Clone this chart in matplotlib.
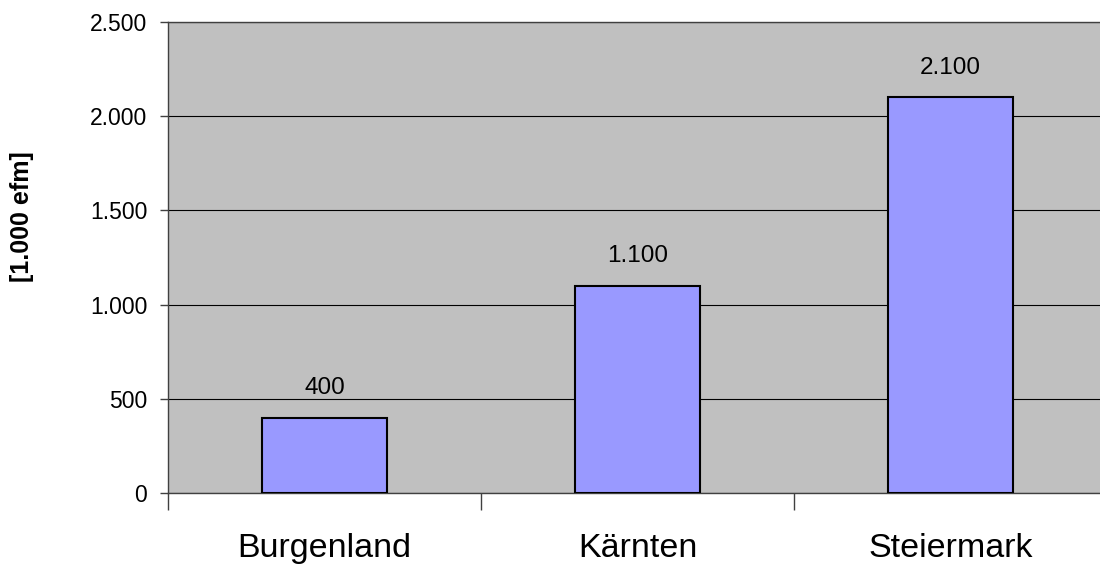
import matplotlib
matplotlib.use("Agg")
import matplotlib.pyplot as plt
from matplotlib.ticker import FuncFormatter, FixedLocator

categories = ["Burgenland", "Kärnten", "Steiermark"]
values = [400, 1100, 2100]
y_ticks = [0, 500, 1000, 1500, 2000, 2500]
y_label = "[1.000 efm]"

plt.rcParams["font.family"] = ["Liberation Sans", "DejaVu Sans"]

def de_format(v, _pos=None):
    return f"{int(round(v)):,}".replace(",", ".")

fig = plt.figure(figsize=(11, 5.64), dpi=100)
ax = fig.add_axes([168 / 1100, 71 / 564, 939 / 1100, 471 / 564])
ax.set_facecolor("#C0C0C0")

x = list(range(len(categories)))
ax.bar(x, values, width=0.4, color="#9999FF", edgecolor="black", linewidth=1.5, zorder=3)

for xi, v in zip(x, values):
    ax.text(xi, v + 100, de_format(v), ha="center", va="bottom", fontsize=17.5, zorder=4)

ax.set_xlim(-0.5, len(categories) - 0.5)
ax.set_ylim(0, 2500)
ax.set_yticks(y_ticks)
ax.yaxis.set_major_formatter(FuncFormatter(de_format))
ax.grid(axis="y", color="black", linewidth=0.8, zorder=1)
ax.set_axisbelow(True)

# category labels centred, tick marks at category boundaries
ax.xaxis.set_major_locator(FixedLocator([i - 0.5 for i in range(len(categories) + 1)]))
ax.xaxis.set_major_formatter(FuncFormatter(lambda v, p: ""))
ax.tick_params(axis="x", length=12, width=1, color="#404040")
for xi, c in zip(x, categories):
    ax.text(xi, -0.085, c, transform=ax.get_xaxis_transform(), ha="center", va="top", fontsize=24.5)

ax.tick_params(axis="y", length=6, width=1, color="#404040", labelsize=16.5, pad=9)
for s in ["left", "top", "bottom", "right"]:
    ax.spines[s].set_color("#404040")
    ax.spines[s].set_linewidth(1)

fig.text(22 / 1100, 1 - 217 / 564, y_label, rotation=90, ha="center", va="center",
         fontsize=18, fontweight="bold")

fig.savefig("out.png", dpi=100)
